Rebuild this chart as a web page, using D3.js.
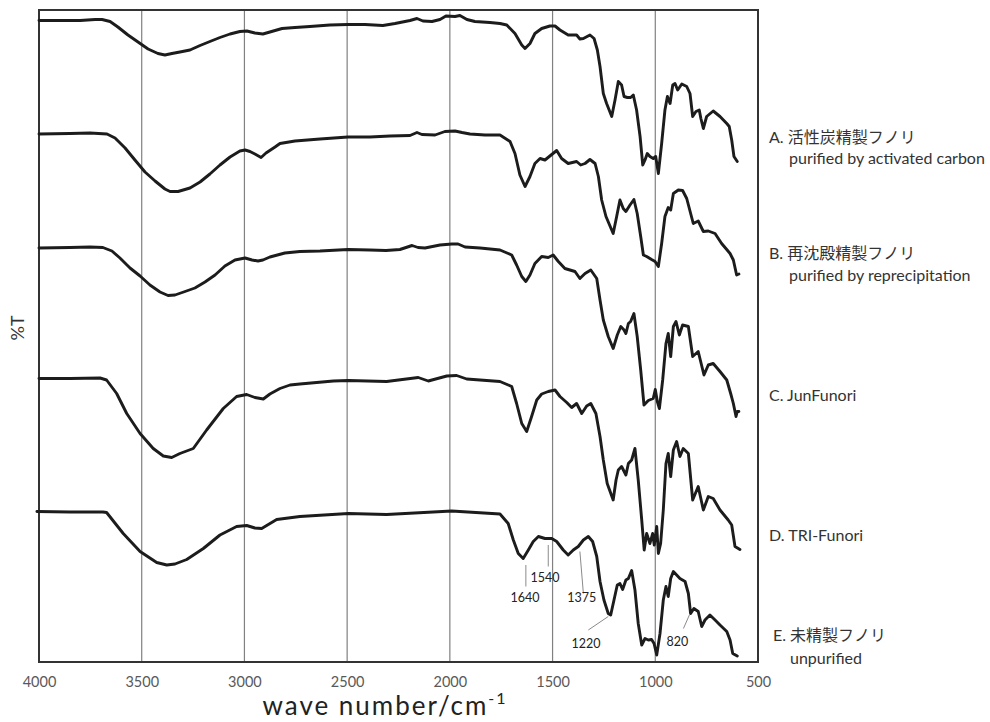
<!DOCTYPE html>
<html>
<head>
<meta charset="utf-8">
<script src="https://cdn.jsdelivr.net/npm/d3@7"></script>
<style>
    body, html { margin: 0; padding: 0; background: #fff; }
    svg text { font-family: Lato, "Noto Sans CJK JP", sans-serif; }
</style>
</head>
<body>
<div id="container"></div>
<script>
// x axis: wave number (cm-1), y: %T with the spectra stacked
const xTicks = [4000, 3500, 3000, 2500, 2000, 1500, 1000, 500];
const gridLines = [3500, 3000, 2500, 2000, 1500, 1000];

// A. purified by activated carbon
const specA = [[4000,128.3],[3898,128.3],[3800,128.3],[3727,128.5],[3693,128.5],[3654,128.1],[3616,127.0],[3567,125.4],[3518,124.0],[3469,122.6],[3421,121.7],[3387,121.4],[3353,121.7],[3314,122.0],[3265,122.4],[3216,123.3],[3168,124.1],[3119,124.9],[3070,125.6],[3022,126.1],[2988,126.2],[2949,125.8],[2910,125.6],[2876,126.0],[2817,126.7],[2754,126.9],[2681,127.1],[2584,127.4],[2496,127.5],[2413,127.5],[2326,127.3],[2267,127.7],[2194,128.3],[2160,128.7],[2131,128.2],[2087,128.1],[2048,128.5],[2019,129.2],[1975,129.1],[1951,129.3],[1917,128.5],[1878,128.1],[1805,127.9],[1756,127.7],[1723,127.4],[1683,125.7],[1650,123.4],[1634,122.7],[1610,123.7],[1586,125.7],[1553,126.7],[1513,127.2],[1488,127.2],[1464,126.4],[1424,125.4],[1383,125.4],[1367,124.6],[1350,124.7],[1318,125.4],[1298,124.7],[1282,122.4],[1269,119.1],[1253,113.7],[1237,111.7],[1212,109.1],[1196,112.4],[1180,116.1],[1164,115.4],[1152,113.1],[1136,112.9],[1120,112.9],[1107,113.4],[1091,110.4],[1074,105.1],[1061,99.4],[1050,100.4],[1039,101.7],[1026,101.1],[1010,100.7],[998,101.1],[985,97.7],[969,103.7],[953,110.4],[941,113.1],[928,111.7],[915,115.4],[904,115.7],[891,114.4],[871,115.6],[847,115.1],[831,113.7],[818,109.1],[802,110.1],[786,110.4],[778,108.7],[766,106.7],[750,109.1],[718,110.2],[685,109.1],[652,107.7],[640,107.1],[628,104.4],[617,101.1],[601,100.1]];

// B. purified by reprecipitation
const specB = [[4000,105.6],[3849,105.7],[3752,105.8],[3669,105.6],[3630,104.8],[3581,102.8],[3533,100.4],[3484,98.0],[3435,96.2],[3387,94.6],[3362,94.1],[3323,94.1],[3265,94.8],[3216,96.0],[3168,97.6],[3119,99.4],[3070,101.0],[3022,102.2],[2997,102.4],[2973,102.1],[2949,101.6],[2919,100.9],[2895,101.8],[2851,103.0],[2827,103.7],[2754,104.2],[2632,104.6],[2496,105.0],[2389,105.0],[2291,105.2],[2194,105.3],[2160,105.9],[2136,105.5],[2072,105.4],[2024,106.1],[1975,106.2],[1941,105.9],[1902,105.6],[1829,105.4],[1756,105.4],[1707,104.1],[1683,101.7],[1659,97.4],[1634,95.1],[1610,97.1],[1586,99.7],[1561,100.7],[1537,100.4],[1513,101.2],[1480,102.3],[1456,100.7],[1424,99.7],[1383,100.1],[1363,99.4],[1342,99.7],[1318,100.5],[1293,99.7],[1277,97.1],[1261,92.4],[1240,89.1],[1205,85.7],[1188,89.1],[1172,92.4],[1156,90.7],[1143,90.1],[1123,91.4],[1104,92.5],[1088,89.7],[1071,85.1],[1058,81.4],[1042,81.1],[1018,80.5],[1001,80.1],[985,79.1],[969,83.7],[953,89.1],[937,90.9],[925,90.4],[912,93.7],[888,94.4],[867,94.3],[847,92.7],[815,87.7],[791,88.2],[766,86.1],[742,86.2],[709,85.7],[677,83.7],[636,81.7],[620,80.4],[604,77.4],[593,77.6]];

// C. JunFunori
const specC = [[4000,82.8],[3849,82.9],[3752,83.0],[3689,82.9],[3645,82.2],[3606,80.8],[3557,78.8],[3508,77.2],[3460,75.4],[3411,74.0],[3372,73.3],[3338,73.4],[3289,74.1],[3241,74.8],[3192,76.0],[3143,77.4],[3095,79.2],[3046,80.4],[2997,80.8],[2963,80.4],[2934,80.2],[2910,80.4],[2876,81.0],[2803,81.8],[2730,82.1],[2632,82.2],[2496,82.5],[2389,82.4],[2311,82.3],[2243,82.5],[2184,83.3],[2155,82.9],[2121,82.8],[2048,83.4],[1990,83.6],[1960,83.6],[1926,83.0],[1853,82.8],[1756,82.4],[1699,81.4],[1675,79.4],[1650,77.1],[1630,76.1],[1610,77.4],[1586,79.7],[1553,81.1],[1521,80.9],[1497,81.4],[1472,80.1],[1440,78.7],[1391,78.1],[1367,76.7],[1342,77.7],[1314,78.4],[1285,76.7],[1269,72.4],[1253,68.4],[1229,65.1],[1205,62.7],[1185,65.4],[1168,67.1],[1152,66.4],[1143,65.7],[1131,67.7],[1120,68.1],[1104,69.7],[1088,65.1],[1071,58.4],[1055,51.4],[1034,52.3],[1010,52.7],[1000,54.5],[990,52.1],[980,50.7],[964,56.4],[948,63.7],[937,65.7],[925,61.1],[912,67.1],[899,68.1],[883,65.4],[867,67.4],[839,67.1],[818,61.1],[791,62.1],[763,57.4],[742,59.4],[718,59.7],[685,58.1],[652,56.4],[633,53.7],[620,51.7],[607,49.1],[601,50.1],[593,50.1]];

// D. TRI-Funori
const specD = [[4000,56.7],[3849,56.7],[3703,56.8],[3671,56.4],[3622,53.7],[3573,49.7],[3508,45.7],[3444,42.7],[3395,41.2],[3354,40.9],[3314,41.7],[3249,42.7],[3184,46.4],[3103,50.7],[3038,53.1],[2989,53.5],[2949,52.9],[2908,52.6],[2876,53.6],[2827,54.7],[2778,55.4],[2730,55.6],[2567,56.2],[2494,56.3],[2308,56.1],[2154,56.9],[2105,56.2],[2015,57.2],[1967,57.3],[1918,56.6],[1756,56.1],[1699,55.1],[1675,51.7],[1650,47.7],[1626,46.1],[1602,49.1],[1577,52.4],[1553,53.6],[1521,54.1],[1488,54.4],[1464,53.1],[1431,51.9],[1407,50.9],[1383,51.7],[1358,49.7],[1334,51.2],[1314,51.7],[1289,49.7],[1269,45.1],[1253,40.4],[1234,35.7],[1205,32.4],[1191,36.4],[1180,38.4],[1164,39.1],[1143,37.4],[1131,39.7],[1115,40.4],[1099,42.7],[1083,36.4],[1066,28.4],[1054,22.4],[1042,25.7],[1026,23.7],[1013,25.7],[1005,23.4],[993,27.1],[985,21.7],[974,23.7],[961,30.4],[948,39.7],[937,41.7],[925,37.1],[912,42.4],[896,44.1],[880,41.1],[864,42.7],[839,41.7],[818,32.4],[791,35.1],[766,30.4],[742,33.1],[718,32.7],[685,30.4],[645,28.4],[628,27.4],[612,23.1],[588,22.5]];

// E. unpurified
const specE = [[4010,30.1],[3849,30.0],[3689,30.0],[3671,29.9],[3590,25.7],[3508,22.1],[3427,19.9],[3378,19.4],[3338,19.6],[3281,20.5],[3200,22.7],[3119,25.4],[3038,27.1],[2989,27.3],[2949,26.8],[2916,26.7],[2843,28.5],[2730,29.1],[2494,29.7],[2308,29.5],[1991,30.2],[1756,29.6],[1716,27.7],[1691,24.4],[1667,21.7],[1643,20.7],[1618,22.4],[1594,24.1],[1569,25.1],[1537,24.7],[1504,24.7],[1480,24.1],[1448,22.4],[1424,21.4],[1399,22.4],[1375,23.1],[1350,24.4],[1326,25.1],[1305,24.1],[1285,21.1],[1269,16.1],[1250,12.4],[1229,9.7],[1217,9.4],[1201,12.4],[1185,15.4],[1172,15.7],[1159,14.5],[1143,16.4],[1131,16.7],[1115,18.3],[1099,14.4],[1083,7.7],[1066,3.4],[1050,4.7],[1034,4.4],[1018,4.5],[1006,3.7],[993,1.4],[977,5.7],[961,12.4],[948,15.1],[937,13.1],[925,16.7],[912,18.1],[896,17.4],[880,16.7],[855,16.1],[839,13.7],[828,9.7],[812,10.7],[791,10.1],[774,7.1],[758,8.4],[734,9.4],[709,8.4],[685,7.4],[652,6.1],[636,4.4],[623,1.7],[601,1.2]];

const seriesLabels = [
    ["A. 活性炭精製フノリ", "purified by activated carbon"],
    ["B. 再沈殿精製フノリ", "purified by reprecipitation"],
    ["C. JunFunori"],
    ["D. TRI-Funori"],
    ["E. 未精製フノリ", "unpurified"]
];

// peak labels on spectrum E
const peakLabels = ["1640", "1540", "1375", "1220", "820"];

const width = 990;
const height = 722;
const margin = { left: 39, right: 232, top: 10, bottom: 60 };

const x = d3.scaleLinear().domain([4000, 500]).range([margin.left, width - margin.right]);
const y = d3.scaleLinear().domain([0, 130.4]).range([height - margin.bottom, margin.top]);

const svg = d3.select("#container").append("svg")
    .attr("width", width)
    .attr("height", height);

// vertical grid lines
svg.append("g")
    .selectAll("line")
    .data(gridLines)
    .join("line")
    .attr("x1", d => x(d)).attr("x2", d => x(d))
    .attr("y1", y.range()[1]).attr("y2", y.range()[0])
    .attr("stroke", "#808080")
    .attr("stroke-width", 1.2);

// frame
svg.append("rect")
    .attr("x", x.range()[0]).attr("y", y.range()[1])
    .attr("width", x.range()[1] - x.range()[0])
    .attr("height", y.range()[0] - y.range()[1])
    .attr("fill", "none")
    .attr("stroke", "#333")
    .attr("stroke-width", 2);

// x axis ticks (labels only)
const xAxis = d3.axisBottom(x)
    .tickValues(xTicks)
    .tickSize(0)
    .tickPadding(15)
    .tickFormat(d3.format("d"));

svg.append("g")
    .attr("transform", `translate(0,${y.range()[0]})`)
    .call(xAxis)
    .call(g => g.select(".domain").remove())
    .selectAll("text")
    .attr("fill", "#595959")
    .style("font-size", "14.5px")
    .style("font-family", "Lato, sans-serif");

// axis titles
const title = svg.append("text")
    .attr("x", 385)
    .attr("y", 715)
    .attr("text-anchor", "middle")
    .attr("fill", "#222")
    .style("font-size", "26px")
    .style("letter-spacing", "2px");
title.append("tspan").text("wave number/cm");
title.append("tspan").text("-1").attr("dy", -11).style("font-size", "16px");

svg.append("text")
    .attr("transform", "translate(24,328) rotate(-90)")
    .attr("text-anchor", "middle")
    .attr("fill", "#333")
    .style("font-size", "18px")
    .text("%T");

// spectra
const spectra = [specA, specB, specC, specD, specE];
const line = d3.line()
    .x(d => x(d[0]))
    .y(d => y(d[1]));

svg.append("g")
    .selectAll("path")
    .data(spectra)
    .join("path")
    .attr("d", line)
    .attr("fill", "none")
    .attr("stroke", "#1c1c1c")
    .attr("stroke-width", 2.9)
    .attr("stroke-linejoin", "round")
    .attr("stroke-linecap", "round");

// peak annotations: leader from [wn,T] to [wn,T], text anchored at [wn,T]
const peakMarks = [
    { from: [1630, 19.4], to: [1630, 15.1], at: [1634, 12.0] },
    { from: [1521, 23.4], to: [1521, 19.1], at: [1537, 16.0] },
    { from: [1367, 22.1], to: [1350, 13.7], at: [1358, 12.0] },
    { from: [1229, 9.1], to: [1326, 6.4], at: [1337, 2.8] },
    { from: [834, 9.4], to: [863, 6.7], at: [893, 3.3] }
];

const ann = svg.append("g");
ann.selectAll("line")
    .data(peakMarks)
    .join("line")
    .attr("x1", d => x(d.from[0])).attr("y1", d => y(d.from[1]))
    .attr("x2", d => x(d.to[0])).attr("y2", d => y(d.to[1]))
    .attr("stroke", "#8a8a8a")
    .attr("stroke-width", 1);

ann.selectAll("text")
    .data(peakMarks)
    .join("text")
    .attr("x", d => x(d.at[0]))
    .attr("y", d => y(d.at[1]))
    .attr("text-anchor", "middle")
    .attr("fill", "#222")
    .style("font-size", "12.5px")
    .text((d, i) => peakLabels[i]);

// sample labels on the right
const labelPos = [
    [[769, 137], [789, 158]],
    [[769, 253], [789, 275]],
    [[769, 395]],
    [[769, 535]],
    [[773, 635], [790, 658]]
];

const labels = svg.append("g");
seriesLabels.forEach((lines, i) => {
    lines.forEach((t, j) => {
        labels.append("text")
            .attr("x", labelPos[i][j][0])
            .attr("y", labelPos[i][j][1])
            .attr("dy", "0.35em")
            .attr("fill", "#333")
            .style("font-size", "16px")
            .text(t);
    });
});
</script>
</body>
</html>
